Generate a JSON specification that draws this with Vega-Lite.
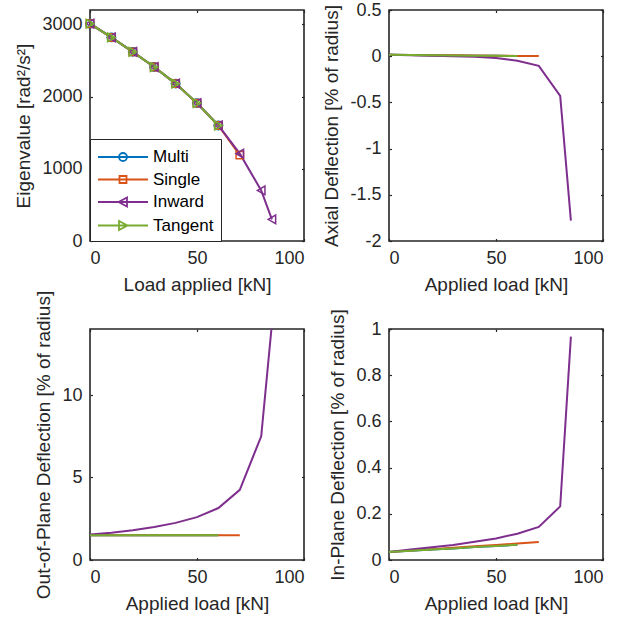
{
  "$schema": "https://vega.github.io/schema/vega-lite/v6.json",
  "padding": {"left": 14, "top": 0, "right": 5, "bottom": 5},
  "background": "white",
  "bounds": "flush",
  "columns": 2,
  "spacing": {"row": 88, "column": 85},
  "datasets": {
    "eig": [
      {"series": "Multi", "load": 0, "value": 3010}, {"series": "Multi", "load": 10, "value": 2820}, {"series": "Multi", "load": 20, "value": 2620}, {"series": "Multi", "load": 30, "value": 2410}, {"series": "Multi", "load": 40, "value": 2180}, {"series": "Multi", "load": 50, "value": 1910}, {"series": "Multi", "load": 60, "value": 1600},
      {"series": "Single", "load": 0, "value": 3010}, {"series": "Single", "load": 10, "value": 2820}, {"series": "Single", "load": 20, "value": 2620}, {"series": "Single", "load": 30, "value": 2410}, {"series": "Single", "load": 40, "value": 2180}, {"series": "Single", "load": 50, "value": 1910}, {"series": "Single", "load": 60, "value": 1600}, {"series": "Single", "load": 70, "value": 1190},
      {"series": "Inward", "load": 0, "value": 3010}, {"series": "Inward", "load": 10, "value": 2820}, {"series": "Inward", "load": 20, "value": 2620}, {"series": "Inward", "load": 30, "value": 2410}, {"series": "Inward", "load": 40, "value": 2180}, {"series": "Inward", "load": 50, "value": 1910}, {"series": "Inward", "load": 60, "value": 1600}, {"series": "Inward", "load": 70, "value": 1210}, {"series": "Inward", "load": 80, "value": 700}, {"series": "Inward", "load": 85, "value": 300},
      {"series": "Tangent", "load": 0, "value": 3010}, {"series": "Tangent", "load": 10, "value": 2820}, {"series": "Tangent", "load": 20, "value": 2620}, {"series": "Tangent", "load": 30, "value": 2410}, {"series": "Tangent", "load": 40, "value": 2180}, {"series": "Tangent", "load": 50, "value": 1910}, {"series": "Tangent", "load": 60, "value": 1600}
    ],
    "axial": [
      {"series": "Multi", "load": 0, "value": 0.015}, {"series": "Multi", "load": 10, "value": 0.012}, {"series": "Multi", "load": 20, "value": 0.01}, {"series": "Multi", "load": 30, "value": 0.008}, {"series": "Multi", "load": 40, "value": 0.006}, {"series": "Multi", "load": 50, "value": 0.004}, {"series": "Multi", "load": 60, "value": 0.002},
      {"series": "Single", "load": 0, "value": 0.015}, {"series": "Single", "load": 10, "value": 0.013}, {"series": "Single", "load": 20, "value": 0.011}, {"series": "Single", "load": 30, "value": 0.009}, {"series": "Single", "load": 40, "value": 0.007}, {"series": "Single", "load": 50, "value": 0.005}, {"series": "Single", "load": 60, "value": 0.003}, {"series": "Single", "load": 70, "value": 0.001},
      {"series": "Inward", "load": 0, "value": 0.015}, {"series": "Inward", "load": 10, "value": 0.01}, {"series": "Inward", "load": 20, "value": 0.005}, {"series": "Inward", "load": 30, "value": 0.0}, {"series": "Inward", "load": 40, "value": -0.007}, {"series": "Inward", "load": 50, "value": -0.02}, {"series": "Inward", "load": 60, "value": -0.05}, {"series": "Inward", "load": 70, "value": -0.105}, {"series": "Inward", "load": 80, "value": -0.43}, {"series": "Inward", "load": 85, "value": -1.78},
      {"series": "Tangent", "load": 0, "value": 0.015}, {"series": "Tangent", "load": 10, "value": 0.012}, {"series": "Tangent", "load": 20, "value": 0.01}, {"series": "Tangent", "load": 30, "value": 0.008}, {"series": "Tangent", "load": 40, "value": 0.006}, {"series": "Tangent", "load": 50, "value": 0.004}, {"series": "Tangent", "load": 60, "value": 0.002}
    ],
    "oop": [
      {"series": "Multi", "load": 0, "value": 1.5}, {"series": "Multi", "load": 10, "value": 1.5}, {"series": "Multi", "load": 20, "value": 1.5}, {"series": "Multi", "load": 30, "value": 1.5}, {"series": "Multi", "load": 40, "value": 1.5}, {"series": "Multi", "load": 50, "value": 1.5}, {"series": "Multi", "load": 60, "value": 1.5},
      {"series": "Single", "load": 0, "value": 1.5}, {"series": "Single", "load": 10, "value": 1.5}, {"series": "Single", "load": 20, "value": 1.5}, {"series": "Single", "load": 30, "value": 1.5}, {"series": "Single", "load": 40, "value": 1.5}, {"series": "Single", "load": 50, "value": 1.5}, {"series": "Single", "load": 60, "value": 1.5}, {"series": "Single", "load": 70, "value": 1.5},
      {"series": "Inward", "load": 0, "value": 1.55}, {"series": "Inward", "load": 10, "value": 1.65}, {"series": "Inward", "load": 20, "value": 1.8}, {"series": "Inward", "load": 30, "value": 2.0}, {"series": "Inward", "load": 40, "value": 2.25}, {"series": "Inward", "load": 50, "value": 2.6}, {"series": "Inward", "load": 60, "value": 3.15}, {"series": "Inward", "load": 70, "value": 4.25}, {"series": "Inward", "load": 80, "value": 7.5}, {"series": "Inward", "load": 85, "value": 14.3},
      {"series": "Tangent", "load": 0, "value": 1.5}, {"series": "Tangent", "load": 10, "value": 1.5}, {"series": "Tangent", "load": 20, "value": 1.5}, {"series": "Tangent", "load": 30, "value": 1.5}, {"series": "Tangent", "load": 40, "value": 1.5}, {"series": "Tangent", "load": 50, "value": 1.5}, {"series": "Tangent", "load": 60, "value": 1.5}
    ],
    "inp": [
      {"series": "Multi", "load": 0, "value": 0.035}, {"series": "Multi", "load": 10, "value": 0.040}, {"series": "Multi", "load": 20, "value": 0.045}, {"series": "Multi", "load": 30, "value": 0.050}, {"series": "Multi", "load": 40, "value": 0.056}, {"series": "Multi", "load": 50, "value": 0.061}, {"series": "Multi", "load": 60, "value": 0.066},
      {"series": "Single", "load": 0, "value": 0.035}, {"series": "Single", "load": 10, "value": 0.041}, {"series": "Single", "load": 20, "value": 0.047}, {"series": "Single", "load": 30, "value": 0.053}, {"series": "Single", "load": 40, "value": 0.059}, {"series": "Single", "load": 50, "value": 0.065}, {"series": "Single", "load": 60, "value": 0.071}, {"series": "Single", "load": 70, "value": 0.078},
      {"series": "Inward", "load": 0, "value": 0.035}, {"series": "Inward", "load": 10, "value": 0.045}, {"series": "Inward", "load": 20, "value": 0.055}, {"series": "Inward", "load": 30, "value": 0.065}, {"series": "Inward", "load": 40, "value": 0.079}, {"series": "Inward", "load": 50, "value": 0.093}, {"series": "Inward", "load": 60, "value": 0.114}, {"series": "Inward", "load": 70, "value": 0.143}, {"series": "Inward", "load": 80, "value": 0.232}, {"series": "Inward", "load": 85, "value": 0.967},
      {"series": "Tangent", "load": 0, "value": 0.035}, {"series": "Tangent", "load": 10, "value": 0.040}, {"series": "Tangent", "load": 20, "value": 0.045}, {"series": "Tangent", "load": 30, "value": 0.050}, {"series": "Tangent", "load": 40, "value": 0.056}, {"series": "Tangent", "load": 50, "value": 0.061}, {"series": "Tangent", "load": 60, "value": 0.066}
    ]
  },
  "concat": [
    {
      "width": 214, "height": 231,
      "data": {"name": "eig"},
      "layer": [
        {
          "mark": {"type": "line", "strokeWidth": 2, "clip": true},
          "encoding": {
            "x": {"field": "load", "type": "quantitative", "scale": {"domain": [0, 100], "nice": false}, "axis": {"title": "Load applied [kN]", "values": [0, 50, 100]}},
            "y": {"field": "value", "type": "quantitative", "scale": {"domain": [0, 3200], "nice": false}, "axis": {"title": "Eigenvalue [rad²/s²]", "values": [0, 1000, 2000, 3000]}},
            "color": {"field": "series", "type": "nominal", "sort": null,
              "scale": {"domain": ["Multi", "Single", "Inward", "Tangent"], "range": ["#0072BD", "#D95319", "#7E2F8E", "#77AC30"]},
              "legend": {
                "title": null, "orient": "bottom-left", "offset": 0,
                "fillColor": "white", "strokeColor": "#262626", "padding": 7,
                "symbolType": "M-1,0H4", "symbolSize": 400, "symbolStrokeWidth": 1.8,
                "labelFontSize": 17, "labelColor": "#000000", "labelOffset": 34, "rowPadding": 3.5,
                "encode": {"symbols": {"update": {
                  "fill": {"value": "transparent"},
                  "shape": {"signal": "datum.value === 'Multi' ? 'M-1,0H4M1.9,0A0.4,0.4,0,1,1,1.1,0A0.4,0.4,0,1,1,1.9,0Z' : datum.value === 'Single' ? 'M-1,0H4M1.15,-0.35H1.85V0.35H1.15Z' : datum.value === 'Inward' ? 'M-1,0H4M1.05,0L1.9,-0.45L1.9,0.45Z' : 'M-1,0H4M1.95,0L1.1,-0.45L1.1,0.45Z'"}
                }}}
              }
            }
          }
        },
        {
          "transform": [{"filter": "datum.series === 'Multi'"}],
          "mark": {"type": "point", "shape": "circle", "filled": false, "strokeWidth": 1.5, "size": 70, "opacity": 1},
          "encoding": {
            "x": {"field": "load", "type": "quantitative", "axis": null},
            "y": {"field": "value", "type": "quantitative", "axis": null},
            "color": {"field": "series", "type": "nominal", "sort": null, "legend": null}
          }
        },
        {
          "transform": [{"filter": "datum.series === 'Single'"}],
          "mark": {"type": "point", "shape": "square", "filled": false, "strokeWidth": 1.5, "size": 55, "opacity": 1},
          "encoding": {
            "x": {"field": "load", "type": "quantitative", "axis": null},
            "y": {"field": "value", "type": "quantitative", "axis": null},
            "color": {"field": "series", "type": "nominal", "sort": null, "legend": null}
          }
        },
        {
          "transform": [{"filter": "datum.series === 'Inward'"}],
          "mark": {"type": "point", "shape": "triangle-left", "filled": false, "strokeWidth": 1.5, "size": 75, "opacity": 1},
          "encoding": {
            "x": {"field": "load", "type": "quantitative", "axis": null},
            "y": {"field": "value", "type": "quantitative", "axis": null},
            "color": {"field": "series", "type": "nominal", "sort": null, "legend": null}
          }
        },
        {
          "transform": [{"filter": "datum.series === 'Tangent'"}],
          "mark": {"type": "point", "shape": "triangle-right", "filled": false, "strokeWidth": 1.5, "size": 75, "opacity": 1},
          "encoding": {
            "x": {"field": "load", "type": "quantitative", "axis": null},
            "y": {"field": "value", "type": "quantitative", "axis": null},
            "color": {"field": "series", "type": "nominal", "sort": null, "legend": null}
          }
        },
        {
          "mark": {"type": "line", "opacity": 0},
          "encoding": {
            "x": {"field": "load", "type": "quantitative", "axis": {"orient": "top", "labels": false, "title": null, "values": [0, 50, 100]}},
            "y": {"field": "value", "type": "quantitative", "axis": {"orient": "right", "labels": false, "title": null, "values": [0, 1000, 2000, 3000]}}
          }
        }
      ],
      "resolve": {"axis": {"x": "independent", "y": "independent"}}
    },
    {
      "width": 214, "height": 231,
      "data": {"name": "axial"},
      "layer": [
        {
          "mark": {"type": "line", "strokeWidth": 2, "clip": true},
          "encoding": {
            "x": {"field": "load", "type": "quantitative", "scale": {"domain": [0, 100], "nice": false}, "axis": {"title": "Applied load [kN]", "values": [0, 50, 100]}},
            "y": {"field": "value", "type": "quantitative", "scale": {"domain": [-2, 0.5], "nice": false}, "axis": {"title": "Axial Deflection [% of radius]", "values": [-2, -1.5, -1, -0.5, 0, 0.5]}},
            "color": {"field": "series", "type": "nominal", "sort": null, "legend": null,
              "scale": {"domain": ["Multi", "Single", "Inward", "Tangent"], "range": ["#0072BD", "#D95319", "#7E2F8E", "#77AC30"]}}
          }
        },
        {
          "mark": {"type": "line", "opacity": 0},
          "encoding": {
            "x": {"field": "load", "type": "quantitative", "axis": {"orient": "top", "labels": false, "title": null, "values": [0, 50, 100]}},
            "y": {"field": "value", "type": "quantitative", "axis": {"orient": "right", "labels": false, "title": null, "values": [-2, -1.5, -1, -0.5, 0, 0.5]}}
          }
        }
      ],
      "resolve": {"axis": {"x": "independent", "y": "independent"}}
    },
    {
      "width": 214, "height": 231,
      "data": {"name": "oop"},
      "layer": [
        {
          "mark": {"type": "line", "strokeWidth": 2, "clip": true},
          "encoding": {
            "x": {"field": "load", "type": "quantitative", "scale": {"domain": [0, 100], "nice": false}, "axis": {"title": "Applied load [kN]", "values": [0, 50, 100]}},
            "y": {"field": "value", "type": "quantitative", "scale": {"domain": [0, 14], "nice": false}, "axis": {"title": "Out-of-Plane Deflection [% of radius]", "values": [0, 5, 10]}},
            "color": {"field": "series", "type": "nominal", "sort": null, "legend": null,
              "scale": {"domain": ["Multi", "Single", "Inward", "Tangent"], "range": ["#0072BD", "#D95319", "#7E2F8E", "#77AC30"]}}
          }
        },
        {
          "mark": {"type": "line", "opacity": 0, "clip": true},
          "encoding": {
            "x": {"field": "load", "type": "quantitative", "axis": {"orient": "top", "labels": false, "title": null, "values": [0, 50, 100]}},
            "y": {"field": "value", "type": "quantitative", "axis": {"orient": "right", "labels": false, "title": null, "values": [0, 5, 10]}}
          }
        }
      ],
      "resolve": {"axis": {"x": "independent", "y": "independent"}}
    },
    {
      "width": 214, "height": 231,
      "data": {"name": "inp"},
      "layer": [
        {
          "mark": {"type": "line", "strokeWidth": 2, "clip": true},
          "encoding": {
            "x": {"field": "load", "type": "quantitative", "scale": {"domain": [0, 100], "nice": false}, "axis": {"title": "Applied load [kN]", "values": [0, 50, 100]}},
            "y": {"field": "value", "type": "quantitative", "scale": {"domain": [0, 1], "nice": false}, "axis": {"title": "In-Plane Deflection [% of radius]", "values": [0, 0.2, 0.4, 0.6, 0.8, 1]}},
            "color": {"field": "series", "type": "nominal", "sort": null, "legend": null,
              "scale": {"domain": ["Multi", "Single", "Inward", "Tangent"], "range": ["#0072BD", "#D95319", "#7E2F8E", "#77AC30"]}}
          }
        },
        {
          "mark": {"type": "line", "opacity": 0},
          "encoding": {
            "x": {"field": "load", "type": "quantitative", "axis": {"orient": "top", "labels": false, "title": null, "values": [0, 50, 100]}},
            "y": {"field": "value", "type": "quantitative", "axis": {"orient": "right", "labels": false, "title": null, "values": [0, 0.2, 0.4, 0.6, 0.8, 1]}}
          }
        }
      ],
      "resolve": {"axis": {"x": "independent", "y": "independent"}}
    }
  ],
  "resolve": {"scale": {"color": "independent"}, "legend": {"color": "independent"}},
  "config": {
    "font": "Liberation Sans",
    "view": {"stroke": "#262626", "strokeWidth": 1.6},
    "axis": {
      "domain": false, "grid": false,
      "tickColor": "#262626", "tickSize": -2.5, "tickWidth": 1.2,
      "labelFontSize": 18, "labelColor": "#262626", "labelPadding": 10.5,
      "labelExpr": "'' + datum.value",
      "titleFontSize": 19, "titleColor": "#262626", "titleFontWeight": "normal", "titlePadding": 8
    }
  }
}
